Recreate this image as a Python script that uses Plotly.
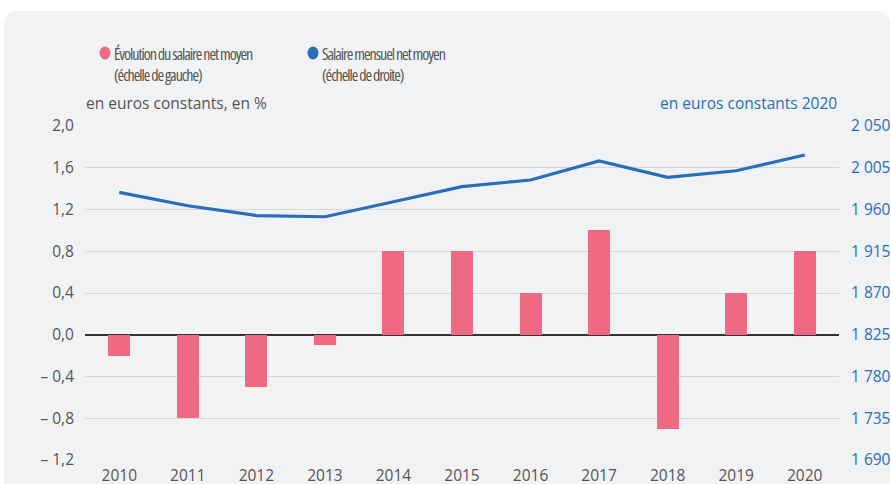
import plotly.graph_objects as go

years = ["2010", "2011", "2012", "2013", "2014", "2015", "2016", "2017", "2018", "2019", "2020"]
evolution = [-0.2, -0.8, -0.5, -0.1, 0.8, 0.8, 0.4, 1.0, -0.9, 0.4, 0.8]
salaire = [1978.5, 1964, 1953.5, 1952.2, 1968.4, 1984.6, 1991.8, 2012.3, 1994.7, 2001.8, 2018.7]

left_ticks = [-1.2, -0.8, -0.4, 0.0, 0.4, 0.8, 1.2, 1.6, 2.0]
left_labels = ["– 1,2", "– 0,8", "– 0,4", "0,0", "0,4", "0,8", "1,2", "1,6", "2,0"]
right_ticks = [1690, 1735, 1780, 1825, 1870, 1915, 1960, 2005, 2050]
right_labels = ["1 690", "1 735", "1 780", "1 825", "1 870", "1 915", "1 960", "2 005", "2 050"]

W, H = 891, 484
L, R, T, B = 85, 839, 126, 460
PW, PH = R - L, B - T

def px(x):
    return (x - L) / PW

def py(y):
    return (B - y) / PH

PINK = "#f06982"
BLUE = "#2a6db8"
GRAY = "#555555"
BG = "#f1f2f4"
FONT = "Open Sans"
FS = 15.5

def squeeze(s):
    return '<span style="font-stretch:75%;letter-spacing:-1.05px">' + s + '</span>'

fig = go.Figure()
fig.add_trace(go.Bar(x=years, y=evolution, marker=dict(color=PINK, line=dict(width=0)),
                     width=0.32, yaxis="y", showlegend=False, name="Évolution du salaire net moyen"))
fig.add_trace(go.Scatter(x=years, y=salaire, mode="lines", line=dict(color=BLUE, width=3.2),
                         yaxis="y2", showlegend=False, name="Salaire mensuel net moyen"))

# background panel with rounded corners
x0, x1 = px(4), px(890)
y0, y1 = py(500), py(11)
rx, ry = 14 / PW, 14 / PH
path = (f"M {x0},{y0} L {x0},{y1-ry} Q {x0},{y1} {x0+rx},{y1} "
        f"L {x1-rx},{y1} Q {x1},{y1} {x1},{y1-ry} L {x1},{y0} Z")
shapes = [dict(type="path", xref="paper", yref="paper", path=path,
               fillcolor=BG, line=dict(width=0), layer="below")]
# legend circles
for cx, col in [(105, PINK), (313, BLUE)]:
    shapes.append(dict(type="circle", xref="paper", yref="paper",
                       x0=px(cx - 5.5), x1=px(cx + 5.5), y0=py(53 + 6.5), y1=py(53 - 6.5),
                       fillcolor=col, line=dict(width=0), layer="above"))

annotations = [
    dict(text=squeeze("Évolution du salaire net moyen") + "<br>" + squeeze("(échelle de gauche)"),
         xref="paper", yref="paper",
         x=px(112), y=py(41), xanchor="left", yanchor="top", align="left", showarrow=False,
         font=dict(family=FONT, size=16, color=GRAY)),
    dict(text=squeeze("Salaire mensuel net moyen") + "<br>" + squeeze("(échelle de droite)"),
         xref="paper", yref="paper",
         x=px(320), y=py(41), xanchor="left", yanchor="top", align="left", showarrow=False,
         font=dict(family=FONT, size=16, color=GRAY)),
    dict(text="en euros constants, en %", xref="paper", yref="paper",
         x=px(84), y=py(103), xanchor="left", yanchor="middle", showarrow=False,
         font=dict(family=FONT, size=FS, color=GRAY)),
    dict(text="en euros constants 2020", xref="paper", yref="paper",
         x=px(839), y=py(103), xanchor="right", yanchor="middle", showarrow=False,
         font=dict(family=FONT, size=FS, color=BLUE)),
]

fig.update_layout(
    width=W, height=H,
    margin=dict(l=L, r=W - R, t=T, b=H - B, pad=0, autoexpand=False),
    paper_bgcolor="white",
    plot_bgcolor="rgba(0,0,0,0)",
    font=dict(family=FONT, size=FS, color=GRAY),
    shapes=shapes,
    annotations=annotations,
    xaxis=dict(type="category", showgrid=False, showline=False, ticks="", automargin=False,
               tickfont=dict(family=FONT, size=FS, color=GRAY), ticklabelstandoff=4),
    yaxis=dict(range=[-1.2, 2.0], tickvals=left_ticks, ticktext=left_labels, automargin=False,
               showgrid=True, gridcolor="#d6d7d9", gridwidth=1,
               zeroline=True, zerolinecolor="#333333", zerolinewidth=1.5,
               showline=False, ticks="", ticklabelstandoff=10,
               tickfont=dict(family=FONT, size=FS, color=GRAY)),
    yaxis2=dict(range=[1690, 2050], tickvals=right_ticks, ticktext=right_labels, automargin=False,
                overlaying="y", side="right", showgrid=False, zeroline=False,
                showline=False, ticks="", ticklabelstandoff=11,
                tickfont=dict(family=FONT, size=FS, color=BLUE)),
    bargap=0,
)

fig.write_html("out.html")
